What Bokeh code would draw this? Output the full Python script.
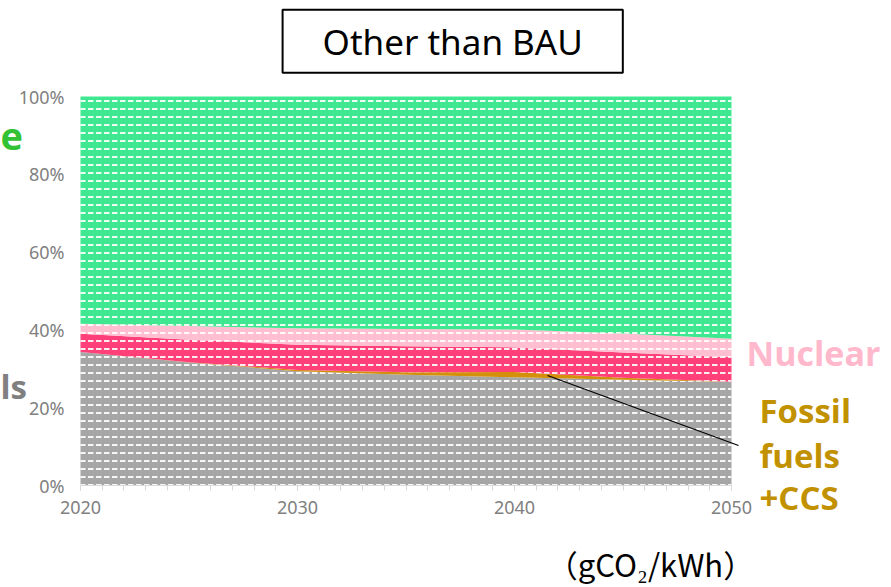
from bokeh.plotting import figure
from bokeh.models import (ColumnDataSource, FixedTicker, LinearAxis,
                          PrintfTickFormatter, BasicTickFormatter, Label,
                          Arrow, Range1d)
from bokeh.embed import file_html
from bokeh.resources import INLINE

# ---- data (share of generation, %) ----
years = [2020, 2025, 2030, 2035, 2040, 2045, 2050]
fossil = [34.3, 31.6, 29.4, 28.5, 27.8, 27.2, 26.7]
fossil_ccs = [0.0, 0.1, 0.3, 0.6, 1.4, 0.5, 0.0]
other_thermal = [4.7, 5.8, 6.5, 6.7, 6.3, 6.5, 6.3]
nuclear = [2.6, 3.5, 4.2, 4.4, 4.6, 4.9, 4.7]
renewable = [58.4, 59.0, 59.6, 59.8, 59.9, 60.9, 62.3]

x_major_ticks = [2020, 2030, 2040, 2050]
x_minor_ticks = list(range(2020, 2051))
y_ticks = [0, 20, 40, 60, 80, 100]

series = ["fossil", "ccs", "thermal", "nuclear", "renewable"]
fills = ["#A6A6A6", "#D4900A", "#FF4079", "#FFBFD0", "#3FE890"]
hatches = ["horizontal_dash", " ", "horizontal_dash", "horizontal_dash",
           "horizontal_dash"]

title_text = "Other than BAU"
unit_text = "（gCO₂/kWh）"

# ---- layout (pixels) ----
W, H = 891, 587
PX_L, PX_R, PX_T, PX_B = 80, 731, 96, 485   # plotting area in canvas px
x0, x1 = years[0], years[-1]
ppx = (PX_R - PX_L) / (x1 - x0)
ppy = (PX_B - PX_T) / 100.0
x_range = Range1d(x0 - PX_L / ppx, x1 + (W - PX_R) / ppx)
y_range = Range1d(-(H - PX_B) / ppy, 100 + PX_T / ppy)


def dx(px):
    return x0 + (px - PX_L) / ppx


def dy(py):
    return (PX_B - py) / ppy


src = ColumnDataSource(dict(year=years, fossil=fossil, ccs=fossil_ccs,
                            thermal=other_thermal, nuclear=nuclear,
                            renewable=renewable))

p = figure(width=W, height=H, x_range=x_range, y_range=y_range,
           output_backend="svg", toolbar_location=None,
           x_axis_location=None, y_axis_location=None,
           min_border_left=0, min_border_right=0, min_border_top=0,
           min_border_bottom=0)
p.outline_line_color = None
p.grid.visible = False
p.background_fill_color = "white"
p.border_fill_color = "white"

p.varea_stack(series, x="year", source=src, fill_color=fills,
              hatch_pattern=hatches, hatch_color="white", hatch_alpha=0.9,
              hatch_scale=8, hatch_weight=2)

# axes
FONT = "Noto Sans"
xa = LinearAxis(fixed_location=0, bounds=(x0, x1))
xa.ticker = FixedTicker(ticks=x_major_ticks, minor_ticks=x_minor_ticks)
xa.formatter = BasicTickFormatter(use_scientific=False)
xa.axis_line_color = "#D9D9D9"
xa.major_tick_line_color = "#D9D9D9"
xa.minor_tick_line_color = "#D9D9D9"
xa.major_tick_in = 0
xa.major_tick_out = 5
xa.minor_tick_in = 0
xa.minor_tick_out = 5
xa.major_label_standoff = 10
xa.major_label_text_font = FONT
xa.major_label_text_font_size = "18px"
xa.major_label_text_color = "#808080"
p.add_layout(xa, "below")

ya = LinearAxis(fixed_location=x0)
ya.ticker = FixedTicker(ticks=y_ticks)
ya.formatter = PrintfTickFormatter(format="%d%%")
ya.axis_line_color = None
ya.major_tick_line_color = None
ya.minor_tick_line_color = None
ya.major_tick_out = 0
ya.major_tick_in = 0
ya.major_label_standoff = 16
ya.major_label_text_font = FONT
ya.major_label_text_font_size = "18px"
ya.major_label_text_color = "#808080"
p.add_layout(ya, "left")

# title box
p.add_layout(Label(x=dx(452.2), y=dy(40.85), text=title_text,
                   text_align="center", text_baseline="middle",
                   text_font=FONT, text_font_size="35px", text_color="black",
                   border_line_color="black", border_line_width=2,
                   background_fill_color="white", padding=(40, 8)))

BOLD = "Open Sans"
# right-side labels
p.add_layout(Label(x=dx(746), y=dy(352), text="Nuclear", text_align="left",
                   text_baseline="alphabetic", text_font=BOLD,
                   text_font_style="bold", text_font_size="34px",
                   text_color="#FFB8CC"))
for t, py in [("Fossil", 410), ("fuels", 455), ("+CCS", 497)]:
    p.add_layout(Label(x=dx(759), y=dy(py), text=t, text_align="left",
                       text_baseline="alphabetic", text_font=BOLD,
                       text_font_style="bold", text_font_size="33px",
                       text_color="#C29100"))

# left-side labels (only their ends are visible in the original)
p.add_layout(Label(x=dx(0), y=dy(136), text="e", text_align="left",
                   text_baseline="alphabetic", text_font=BOLD,
                   text_font_style="bold", text_font_size="38px",
                   text_color="#33C233"))
p.add_layout(Label(x=dx(0), y=dy(386), text="ls", text_align="left",
                   text_baseline="alphabetic", text_font=BOLD,
                   text_font_style="bold", text_font_size="33px",
                   text_color="#808080"))

# leader line to the CCS band
p.add_layout(Arrow(end=None, x_start=dx(547), y_start=dy(375),
                   x_end=dx(738), y_end=dy(445),
                   line_color="black", line_width=1.3))

# unit
p.add_layout(Label(x=dx(650), y=dy(563), text=unit_text, text_align="center",
                   text_baseline="middle", text_font="Noto Sans CJK JP",
                   text_font_size="31px", text_color="black"))

open("out.html", "w").write(file_html(p, INLINE))
